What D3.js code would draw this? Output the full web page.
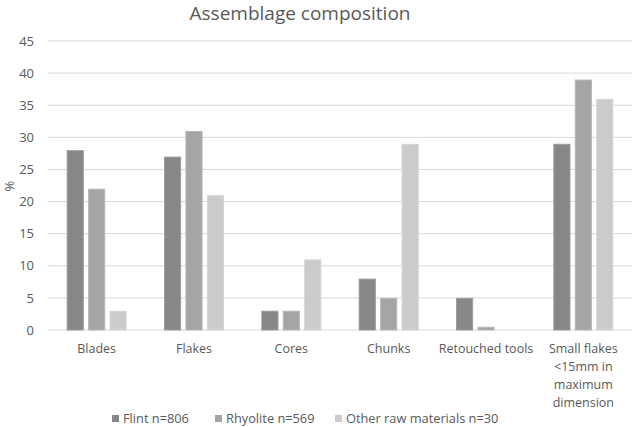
<!DOCTYPE html>
<html>
<head>
<meta charset="utf-8">
<script src="https://cdn.jsdelivr.net/npm/d3@7"></script>
<style>
  body { margin: 0; background: #fff; }
  text { font-family: "Open Sans", "Noto Sans", sans-serif; fill: #595959; }
</style>
</head>
<body>
<div id="chart"></div>
<script>
// chart data
let categories = ["Blades", "Flakes", "Cores", "Chunks", "Retouched tools", "Small flakes <15mm in maximum dimension"];
let seriesNames = ["Flint n=806", "Rhyolite n=569", "Other raw materials n=30"];
let flint = [28, 27, 3, 8, 5, 29];
let rhyolite = [22, 31, 3, 5, 0.5, 39];
let other = [3, 21, 11, 29, 0, 36];
let yTicks = [0, 5, 10, 15, 20, 25, 30, 35, 40, 45];

let seriesValues = [flint, rhyolite, other];
let fills = ["#878787", "#a5a5a5", "#cbcbcb"];
let strokes = ["#9b9b9b", "#b6b6b6", "#d6d6d6"];

let svgWidth = 633;
let svgHeight = 427;

let margin = { top: 41, right: 1, bottom: 97, left: 48 };
let width = svgWidth - margin.left - margin.right;
let height = svgHeight - margin.top - margin.bottom;

let svg = d3.select("#chart")
    .append("svg")
    .attr("width", svgWidth)
    .attr("height", svgHeight);

// title
svg.append("text")
    .attr("x", 300)
    .attr("y", 20)
    .attr("text-anchor", "middle")
    .attr("font-size", "19px")
    .text("Assemblage composition");

let chartGroup = svg.append("g")
    .attr("transform", `translate(${margin.left}, ${margin.top})`);

// scales
let x0 = d3.scaleBand()
    .domain(categories)
    .range([0, width])
    .padding(0);

let groupW = 60;
let x1 = d3.scaleBand()
    .domain(d3.range(seriesNames.length))
    .range([(x0.bandwidth() - groupW) / 2, (x0.bandwidth() + groupW) / 2])
    .paddingInner(0.2);

let y = d3.scaleLinear()
    .domain([0, 45])
    .range([height, 0]);

// gridlines
chartGroup.append("g")
    .selectAll("line")
    .data(yTicks)
    .enter()
    .append("line")
    .attr("x1", 0)
    .attr("x2", width)
    .attr("y1", d => y(d))
    .attr("y2", d => y(d))
    .attr("stroke", "#d9d9d9")
    .attr("stroke-width", 1);

// y axis labels
let leftAxis = d3.axisLeft(y).tickValues(yTicks).tickSize(0).tickPadding(14);
let yAxis = chartGroup.append("g").call(leftAxis);
yAxis.select(".domain").remove();
yAxis.selectAll("text")
    .attr("font-size", "13px")
    .attr("fill", "#595959")
    .style("font-family", "'Open Sans', sans-serif");

// y axis title
svg.append("text")
    .attr("transform", "rotate(-90)")
    .attr("x", -186)
    .attr("y", 14)
    .attr("text-anchor", "middle")
    .attr("font-size", "13px")
    .text("%");

// bars
let groups = chartGroup.selectAll(".cat")
    .data(categories)
    .enter()
    .append("g")
    .attr("transform", d => `translate(${x0(d)}, 0)`);

groups.selectAll("rect")
    .data((d, i) => seriesValues.map((vals, s) => ({ s: s, v: vals[i] })))
    .enter()
    .append("rect")
    .filter(d => d.v > 0)
    .attr("x", d => x1(d.s) + 0.5)
    .attr("width", x1.bandwidth() - 1)
    .attr("y", d => y(d.v) + 0.5)
    .attr("height", d => Math.max(0, height - y(d.v) - 0.5))
    .attr("fill", d => fills[d.s])
    .attr("stroke", d => strokes[d.s])
    .attr("stroke-width", 1);

// category labels (wrapped)
let wrapLines = {
    "Small flakes <15mm in maximum dimension": ["Small flakes", "<15mm in", "maximum", "dimension"]
};
let catLabels = chartGroup.selectAll(".catLabel")
    .data(categories)
    .enter()
    .append("text")
    .attr("text-anchor", "middle")
    .attr("font-size", "12.5px")
    .attr("x", d => x0(d) + x0.bandwidth() / 2)
    .attr("y", height + 23);

catLabels.each(function (d) {
    let lines = wrapLines[d] || [d];
    let t = d3.select(this);
    lines.forEach((ln, i) => {
        t.append("tspan")
            .attr("x", x0(d) + x0.bandwidth() / 2)
            .attr("dy", i === 0 ? 0 : 18)
            .text(ln);
    });
});

// legend
let legendX = [112, 215, 335];
let legend = svg.append("g");
seriesNames.forEach((name, i) => {
    legend.append("rect")
        .attr("x", legendX[i])
        .attr("y", 415)
        .attr("width", 7)
        .attr("height", 7)
        .attr("fill", fills[i]);
    legend.append("text")
        .attr("x", legendX[i] + 11)
        .attr("y", 423)
        .attr("font-size", "12.8px")
        .text(name);
});
</script>
</body>
</html>
